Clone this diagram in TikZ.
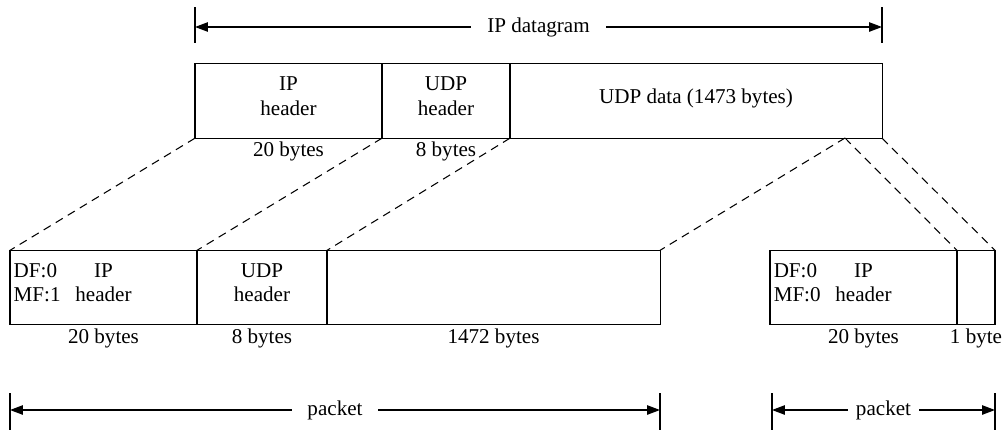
\documentclass[tikz,border=0pt]{standalone}
\usepackage{fontspec}
\setmainfont{Liberation Serif}
\usepackage{tikz}
\usetikzlibrary{positioning,arrows.meta}

\tikzset{
  cell/.style={draw, line width=0.9pt, minimum height=2.23cm, inner sep=0pt, outer sep=0pt, align=center, text depth=0.3cm},
  bytes/.style={below=1pt, inner sep=2pt},
  flags/.style={anchor=west, align=left, inner sep=3pt, yshift=4pt},
  frag/.style={dash pattern=on 7pt off 5pt, line width=0.9pt},
  endtick/.style={line width=0.9pt},
  dim/.style={{Triangle[length=11pt,width=8pt]}-{Triangle[length=11pt,width=8pt]}, line width=1.1pt},
  dimlabel/.style={fill=white, inner xsep=0.5cm, inner ysep=1pt}
}

\begin{document}
\begin{tikzpicture}[x=0.03cm, y=-0.03cm, font=\fontsize{18}{21}\selectfont]
    \useasboundingbox (0,0) rectangle (1003,438);

    % the IP datagram
    \node[cell, minimum width=5.61cm] (iphdr) at (288.5,101) {IP\\header};
    \node[cell, minimum width=3.84cm, right=0pt of iphdr] (udphdr) {UDP\\header};
    \node[cell, minimum width=11.16cm, right=0pt of udphdr] (udpdata) {UDP data (1473 bytes)};
    \node[bytes] at (iphdr.south) {20 bytes};
    \node[bytes] at (udphdr.south) {8 bytes};

    % first fragment
    \node[cell, minimum width=5.61cm] (fragAip) at (103.5,287.5) {IP\\header};
    \node[cell, minimum width=3.9cm, right=0pt of fragAip] (fragAudp) {UDP\\header};
    \node[cell, minimum width=9.99cm, right=0pt of fragAudp] (fragAdata) {};
    \node[flags] at (fragAip.west) {DF:0\\MF:1};
    \node[bytes] at (fragAip.south) {20 bytes};
    \node[bytes] at (fragAudp.south) {8 bytes};
    \node[bytes] at (fragAdata.south) {1472 bytes};

    % second fragment
    \node[cell, minimum width=5.61cm] (fragBip) at (863.5,287.5) {IP\\header};
    \node[cell, minimum width=1.14cm, right=0pt of fragBip] (fragBdata) {};
    \node[flags] at (fragBip.west) {DF:0\\MF:0};
    \node[bytes] at (fragBip.south) {20 bytes};
    \node[bytes] at (fragBdata.south) {1 byte};

    % where the data is cut
    \coordinate (split) at (845,138);
    \draw[frag] (iphdr.south west) -- (fragAip.north west);
    \draw[frag] (udphdr.south west) -- (fragAudp.north west);
    \draw[frag] (udpdata.south west) -- (fragAdata.north west);
    \draw[frag] (split) -- (fragAdata.north east);
    \draw[frag] (split) -- (fragBdata.north west);
    \draw[frag] (udpdata.south east) -- (fragBdata.north east);

    % size arrows
    \coordinate (dgL) at (195,27);
    \coordinate (dgR) at (882,27);
    \draw[endtick] (dgL) ++(0,-20) -- ++(0,36);
    \draw[endtick] (dgR) ++(0,-20) -- ++(0,36);
    \draw[dim] (dgL) -- node[dimlabel] {IP datagram} (dgR);

    \coordinate (pkAL) at (10,410);
    \coordinate (pkAR) at (660,410);
    \draw[endtick] (pkAL) ++(0,-17) -- ++(0,37);
    \draw[endtick] (pkAR) ++(0,-17) -- ++(0,37);
    \draw[dim] (pkAL) -- node[dimlabel, inner xsep=0.45cm] {packet} (pkAR);

    \coordinate (pkBL) at (772,410);
    \coordinate (pkBR) at (995,410);
    \draw[endtick] (pkBL) ++(0,-17) -- ++(0,37);
    \draw[endtick] (pkBR) ++(0,-17) -- ++(0,37);
    \draw[dim] (pkBL) -- node[dimlabel, inner xsep=0.25cm] {packet} (pkBR);
\end{tikzpicture}
\end{document}
